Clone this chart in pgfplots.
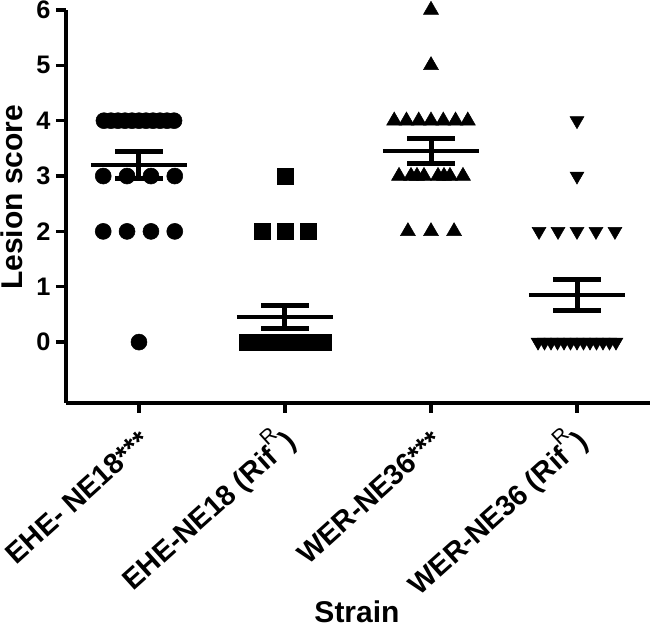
\documentclass[border=0pt]{standalone}
\usepackage{fontspec}
\setmainfont{Liberation Sans}
\usepackage{pgfplots}
\pgfplotsset{compat=1.18}
\newcommand{\supR}{\raisebox{0.62em}{\fontsize{15.5}{17}\selectfont\mdseries R}}
\begin{document}
\begin{tikzpicture}
\begin{axis}[
  scale only axis, width=438pt, height=294.75pt,
  xmin=0.5, xmax=4.5, ymin=-1.1, ymax=6,
  axis x line=bottom, axis y line=left,
  axis line style={-, line width=2.5pt, black},
  tick align=outside, major tick length=7.5pt,
  tick style={line width=2.5pt, black},
  xtick={1,2,3,4}, ytick={0,1,2,3,4,5,6},
  xticklabels={EHE- NE18***, EHE-NE18 (Rif\supR), WER-NE36***, WER-NE36 (Rif\supR)},
  xticklabel style={xshift=9.5pt, yshift=-23pt, rotate=42, anchor=base east, inner sep=0pt, font=\bfseries\fontsize{21.5}{25}\selectfont},
  yticklabel style={inner sep=0pt, xshift=-4pt, font=\bfseries\fontsize{19}{22}\selectfont},
  /pgf/number format/assume math mode=true,
  xlabel={Strain}, ylabel={Lesion score},
  xlabel style={at={(axis description cs:0.4983,-0.532)}, anchor=center, font=\bfseries\fontsize{22.5}{26}\selectfont},
  ylabel style={at={(axis description cs:-0.0925,0.523)}, anchor=center, font=\bfseries\fontsize{22.5}{26}\selectfont},
  clip=false,
]
\coordinate (bbsw) at (axis description cs:-0.113,-0.5776);
\coordinate (bbne) at (axis description cs:1.0,1.0254);
% Group 1: EHE- NE18 (circles)
\addplot[only marks, mark=*, mark size=6pt, mark options={fill=black, draw=black}] coordinates {
 (0.76,4) (0.808,4) (0.856,4) (0.904,4) (0.952,4) (1.0,4) (1.048,4) (1.096,4) (1.144,4) (1.192,4) (1.24,4)
 (0.755,3) (0.918,3) (1.082,3) (1.245,3)
 (0.755,2) (0.918,2) (1.082,2) (1.245,2)
 (1.0,0)
};
% Group 2: EHE-NE18 (RifR) (squares)
\addplot[only marks, mark=square*, mark size=6pt, mark options={fill=black, draw=black}] coordinates {
 (2.0,3)
 (1.842,2) (2.0,2) (2.158,2)
 (1.74,0) (1.7747,0) (1.8093,0) (1.844,0) (1.8787,0) (1.9133,0) (1.948,0) (1.9827,0)
 (2.0173,0) (2.052,0) (2.0867,0) (2.1213,0) (2.156,0) (2.1907,0) (2.2253,0) (2.26,0)
};
% Group 3: WER-NE36 (triangles)
\addplot[only marks, mark=triangle*, mark size=6.5pt, mark options={fill=black, draw=black}] coordinates {
 (3.0,6) (3.0,5)
 (2.748,4) (2.832,4) (2.916,4) (3.0,4) (3.084,4) (3.168,4) (3.252,4)
 (2.781,3) (2.863,3) (2.904,3) (2.952,3) (3.048,3) (3.089,3) (3.13,3) (3.219,3)
 (2.842,2) (3.0,2) (3.158,2)
};
% Group 4: WER-NE36 (RifR) (down triangles)
\addplot[only marks, mark=triangle*, mark size=6pt, mark options={fill=black, draw=black, rotate=180}] coordinates {
 (4.0,4) (4.0,3)
 (3.74,2) (3.87,2) (4.0,2) (4.13,2) (4.26,2)
 (3.733,0) (3.7775,0) (3.822,0) (3.8665,0) (3.911,0) (3.9555,0) (4.0,0)
 (4.0445,0) (4.089,0) (4.1335,0) (4.178,0) (4.2225,0) (4.267,0)
};
% Means
\addplot[black, line width=3pt] coordinates {(0.67,3.2) (1.33,3.2)};
\addplot[black, line width=3pt] coordinates {(1.67,0.45) (2.33,0.45)};
\addplot[black, line width=3pt] coordinates {(2.67,3.45) (3.33,3.45)};
\addplot[black, line width=3pt] coordinates {(3.67,0.85) (4.33,0.85)};
% SEM stems
\addplot[black, line width=3.75pt] coordinates {(1,2.953) (1,3.447)};
\addplot[black, line width=3.75pt] coordinates {(2,0.239) (2,0.661)};
\addplot[black, line width=3.75pt] coordinates {(3,3.227) (3,3.673)};
\addplot[black, line width=3.75pt] coordinates {(4,0.5665) (4,1.1335)};
% SEM caps
\addplot[black, line width=3.75pt] coordinates {(0.836,3.447) (1.164,3.447)};
\addplot[black, line width=3.75pt] coordinates {(0.836,2.953) (1.164,2.953)};
\addplot[black, line width=3.75pt] coordinates {(1.836,0.661) (2.164,0.661)};
\addplot[black, line width=3.75pt] coordinates {(1.836,0.239) (2.164,0.239)};
\addplot[black, line width=3.75pt] coordinates {(2.836,3.673) (3.164,3.673)};
\addplot[black, line width=3.75pt] coordinates {(2.836,3.227) (3.164,3.227)};
\addplot[black, line width=3.75pt] coordinates {(3.836,1.1335) (4.164,1.1335)};
\addplot[black, line width=3.75pt] coordinates {(3.836,0.5665) (4.164,0.5665)};
\end{axis}
\pgfresetboundingbox
\path[use as bounding box] (bbsw) rectangle (bbne);
\end{tikzpicture}
\end{document}
